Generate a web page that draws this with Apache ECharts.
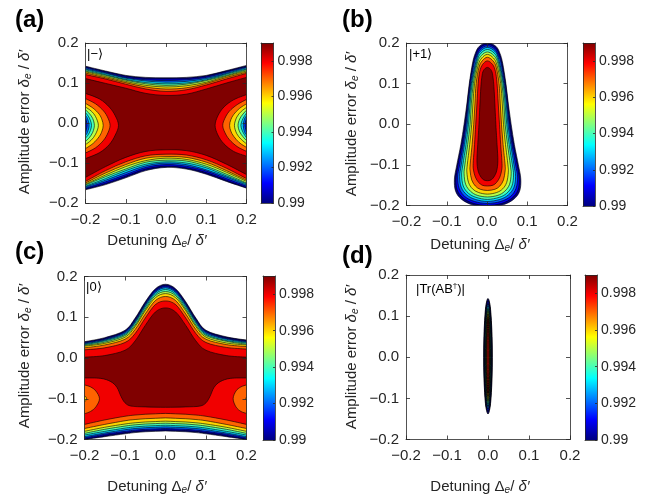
<!DOCTYPE html>
<html>
<head>
<meta charset="utf-8">
<script src="https://cdn.jsdelivr.net/npm/echarts@6/dist/echarts.min.js"></script>
<style>
html, body { margin: 0; padding: 0; background: #fff; }
#chart { width: 657px; height: 497px; }
</style>
</head>
<body>
<div id="chart"></div>
<script>
// ---------- contour levels and colour bar ----------
const levels = [0.990, 0.991, 0.992, 0.993, 0.994, 0.995, 0.996, 0.997, 0.998, 0.999];
const cbarTicks = [0.99, 0.992, 0.994, 0.996, 0.998];
const axisTicks = [-0.2, -0.1, 0, 0.1, 0.2];

// ---------- (a) |−⟩ : upper / lower contour branches sampled at aX ----------
const aX = [-0.2, -0.15, -0.1, -0.05, 0, 0.05, 0.1, 0.15, 0.2];
const aUpper = [
  [0.142, 0.130, 0.119, 0.114, 0.113, 0.114, 0.119, 0.131, 0.144],
  [0.140, 0.128, 0.117, 0.111, 0.110, 0.111, 0.117, 0.129, 0.142],
  [0.138, 0.126, 0.114, 0.108, 0.106, 0.108, 0.114, 0.127, 0.140],
  [0.135, 0.124, 0.112, 0.105, 0.102, 0.104, 0.111, 0.124, 0.138],
  [0.133, 0.121, 0.109, 0.101, 0.098, 0.100, 0.108, 0.122, 0.135],
  [0.130, 0.119, 0.107, 0.098, 0.094, 0.097, 0.106, 0.119, 0.133],
  [0.128, 0.116, 0.104, 0.094, 0.090, 0.093, 0.102, 0.117, 0.130],
  [0.125, 0.113, 0.101, 0.090, 0.085, 0.088, 0.099, 0.114, 0.127],
  [0.121, 0.110, 0.097, 0.085, 0.079, 0.083, 0.095, 0.110, 0.124],
  [0.111, 0.099, 0.087, 0.074, 0.069, 0.072, 0.085, 0.100, 0.114]
];
const aLower = [
  [-0.167, -0.154, -0.137, -0.119, -0.111, -0.115, -0.128, -0.146, -0.163],
  [-0.165, -0.151, -0.133, -0.115, -0.108, -0.112, -0.124, -0.143, -0.161],
  [-0.163, -0.147, -0.129, -0.111, -0.104, -0.108, -0.120, -0.139, -0.158],
  [-0.160, -0.143, -0.124, -0.107, -0.100, -0.104, -0.117, -0.135, -0.155],
  [-0.158, -0.139, -0.119, -0.103, -0.097, -0.100, -0.112, -0.132, -0.152],
  [-0.155, -0.134, -0.115, -0.098, -0.093, -0.095, -0.108, -0.128, -0.150],
  [-0.153, -0.130, -0.109, -0.094, -0.088, -0.091, -0.103, -0.123, -0.146],
  [-0.150, -0.125, -0.104, -0.088, -0.084, -0.086, -0.098, -0.119, -0.143],
  [-0.146, -0.119, -0.097, -0.082, -0.078, -0.080, -0.092, -0.113, -0.139],
  [-0.136, -0.109, -0.086, -0.071, -0.067, -0.069, -0.081, -0.103, -0.129]
];
// side pockets (region below the level, touching x = ±0.2)
const aPockets = [
  [0.999, [[-0.2, 0.074], [-0.165, 0.060], [-0.141, 0.040], [-0.126, 0.018], [-0.118, -0.006], [-0.126, -0.030], [-0.141, -0.054], [-0.165, -0.074], [-0.2, -0.089]]],
  [0.999, [[0.2, 0.071], [0.168, 0.058], [0.144, 0.040], [0.129, 0.018], [0.122, -0.006], [0.129, -0.030], [0.144, -0.052], [0.168, -0.071], [0.2, -0.083]]],
  [0.998, [[-0.2, 0.061], [-0.175, 0.048], [-0.155, 0.030], [-0.144, 0.012], [-0.139, -0.006], [-0.144, -0.024], [-0.155, -0.043], [-0.175, -0.062], [-0.2, -0.075]]],
  [0.998, [[0.2, 0.059], [0.177, 0.046], [0.157, 0.029], [0.146, 0.011], [0.141, -0.006], [0.146, -0.023], [0.157, -0.041], [0.177, -0.059], [0.2, -0.071]]],
  [0.997, [[-0.2, 0.049], [-0.181, 0.037], [-0.166, 0.022], [-0.159, 0.008], [-0.156, -0.006], [-0.159, -0.020], [-0.166, -0.034], [-0.181, -0.051], [-0.2, -0.064]]],
  [0.997, [[0.2, 0.048], [0.182, 0.036], [0.168, 0.021], [0.161, 0.008], [0.158, -0.006], [0.161, -0.020], [0.168, -0.033], [0.182, -0.049], [0.2, -0.061]]],
  [0.996, [[-0.2, 0.040], [-0.186, 0.030], [-0.175, 0.016], [-0.168, -0.006], [-0.175, -0.028], [-0.186, -0.043], [-0.2, -0.054]]],
  [0.996, [[0.2, 0.039], [0.187, 0.029], [0.176, 0.015], [0.170, -0.006], [0.176, -0.027], [0.187, -0.041], [0.2, -0.052]]],
  [0.995, [[-0.2, 0.033], [-0.190, 0.023], [-0.182, 0.011], [-0.178, -0.006], [-0.182, -0.023], [-0.190, -0.036], [-0.2, -0.046]]],
  [0.995, [[0.2, 0.032], [0.191, 0.022], [0.183, 0.010], [0.179, -0.006], [0.183, -0.022], [0.191, -0.034], [0.2, -0.044]]],
  [0.994, [[-0.2, 0.026], [-0.193, 0.017], [-0.188, 0.007], [-0.185, -0.006], [-0.188, -0.019], [-0.193, -0.029], [-0.2, -0.038]]],
  [0.994, [[0.2, 0.025], [0.194, 0.016], [0.189, 0.006], [0.186, -0.006], [0.189, -0.018], [0.194, -0.028], [0.2, -0.037]]],
  [0.993, [[-0.2, 0.019], [-0.195, 0.011], [-0.191, -0.006], [-0.195, -0.023], [-0.2, -0.031]]],
  [0.993, [[0.2, 0.018], [0.195, 0.010], [0.192, -0.006], [0.195, -0.022], [0.2, -0.030]]],
  [0.992, [[-0.2, 0.013], [-0.198, 0.006], [-0.196, -0.006], [-0.198, -0.017], [-0.2, -0.024]]],
  [0.992, [[0.2, 0.012], [0.198, 0.005], [0.196, -0.006], [0.198, -0.016], [0.2, -0.023]]]
];

// ---------- (b) |+1⟩ : closed contours, rows of [y, xLeft, xRight] ----------
const bLoops = [
  [0.990, [[0.201, 0.001, 0.001], [0.192, -0.019, 0.022], [0.175, -0.029, 0.032], [0.15, -0.036, 0.039], [0.10, -0.044, 0.047], [0.05, -0.050, 0.053], [0.0, -0.057, 0.060], [-0.05, -0.065, 0.068], [-0.10, -0.075, 0.078], [-0.135, -0.081, 0.084], [-0.165, -0.078, 0.081], [-0.185, -0.063, 0.066], [-0.199, -0.035, 0.038], [-0.204, 0.001, 0.001]]],
  [0.991, [[0.197, 0.001, 0.001], [0.188, -0.018, 0.021], [0.17, -0.028, 0.031], [0.15, -0.034, 0.037], [0.10, -0.043, 0.046], [0.05, -0.049, 0.052], [0.0, -0.054, 0.057], [-0.05, -0.062, 0.065], [-0.10, -0.072, 0.075], [-0.135, -0.077, 0.080], [-0.162, -0.074, 0.077], [-0.182, -0.059, 0.062], [-0.195, -0.033, 0.036], [-0.200, 0.001, 0.001]]],
  [0.992, [[0.193, 0.001, 0.001], [0.184, -0.017, 0.020], [0.165, -0.027, 0.030], [0.15, -0.032, 0.035], [0.10, -0.041, 0.044], [0.05, -0.047, 0.050], [0.0, -0.052, 0.055], [-0.05, -0.059, 0.062], [-0.10, -0.068, 0.071], [-0.13, -0.073, 0.076], [-0.158, -0.069, 0.072], [-0.178, -0.055, 0.058], [-0.190, -0.031, 0.034], [-0.195, 0.001, 0.001]]],
  [0.993, [[0.189, 0.001, 0.001], [0.18, -0.016, 0.019], [0.16, -0.026, 0.029], [0.10, -0.039, 0.042], [0.05, -0.045, 0.048], [0.0, -0.049, 0.052], [-0.05, -0.056, 0.059], [-0.10, -0.064, 0.067], [-0.128, -0.068, 0.071], [-0.155, -0.064, 0.067], [-0.174, -0.050, 0.053], [-0.185, -0.029, 0.032], [-0.19, 0.001, 0.001]]],
  [0.994, [[0.184, 0.001, 0.001], [0.175, -0.015, 0.018], [0.155, -0.025, 0.028], [0.10, -0.037, 0.040], [0.05, -0.042, 0.045], [0.0, -0.046, 0.049], [-0.05, -0.052, 0.055], [-0.10, -0.060, 0.063], [-0.125, -0.063, 0.066], [-0.152, -0.059, 0.062], [-0.170, -0.046, 0.049], [-0.180, -0.027, 0.030], [-0.185, 0.001, 0.001]]],
  [0.995, [[0.178, 0.001, 0.001], [0.169, -0.014, 0.017], [0.15, -0.024, 0.027], [0.10, -0.034, 0.037], [0.05, -0.039, 0.042], [0.0, -0.042, 0.045], [-0.05, -0.048, 0.051], [-0.10, -0.055, 0.058], [-0.122, -0.057, 0.060], [-0.148, -0.053, 0.056], [-0.165, -0.041, 0.044], [-0.175, -0.024, 0.027], [-0.179, 0.001, 0.001]]],
  [0.996, [[0.172, 0.001, 0.001], [0.163, -0.013, 0.016], [0.145, -0.022, 0.025], [0.10, -0.031, 0.034], [0.05, -0.035, 0.038], [0.0, -0.038, 0.041], [-0.05, -0.043, 0.046], [-0.10, -0.049, 0.052], [-0.118, -0.050, 0.053], [-0.143, -0.046, 0.049], [-0.159, -0.036, 0.039], [-0.168, -0.021, 0.024], [-0.172, 0.001, 0.001]]],
  [0.997, [[0.165, 0.001, 0.001], [0.156, -0.012, 0.015], [0.14, -0.020, 0.023], [0.10, -0.027, 0.030], [0.05, -0.030, 0.033], [0.0, -0.033, 0.036], [-0.05, -0.037, 0.040], [-0.10, -0.042, 0.045], [-0.115, -0.042, 0.045], [-0.137, -0.038, 0.041], [-0.152, -0.029, 0.032], [-0.160, -0.017, 0.020], [-0.163, 0.001, 0.001]]],
  [0.998, [[0.156, 0.001, 0.001], [0.147, -0.011, 0.014], [0.13, -0.018, 0.021], [0.10, -0.022, 0.025], [0.05, -0.025, 0.028], [0.0, -0.028, 0.031], [-0.05, -0.031, 0.034], [-0.09, -0.034, 0.037], [-0.11, -0.034, 0.037], [-0.13, -0.029, 0.032], [-0.143, -0.021, 0.024], [-0.150, -0.012, 0.015], [-0.152, 0.001, 0.001]]],
  [0.999, [[0.140, 0.001, 0.001], [0.132, -0.009, 0.011], [0.115, -0.013, 0.015], [0.08, -0.016, 0.018], [0.0, -0.020, 0.022], [-0.05, -0.023, 0.025], [-0.09, -0.025, 0.027], [-0.115, -0.022, 0.024], [-0.13, -0.015, 0.017], [-0.137, -0.008, 0.010], [-0.139, 0.001, 0.001]]]
];

// ---------- (c) |0⟩ : upper / lower branches sampled at cX ----------
const cX = [-0.2, -0.15, -0.1, -0.075, -0.05, -0.025, 0, 0.025, 0.05, 0.075, 0.1, 0.15, 0.2];
const cUpper = [
  [0.040, 0.050, 0.068, 0.098, 0.138, 0.170, 0.181, 0.170, 0.138, 0.098, 0.068, 0.052, 0.044],
  [0.039, 0.048, 0.066, 0.095, 0.135, 0.167, 0.178, 0.167, 0.135, 0.095, 0.066, 0.050, 0.043],
  [0.037, 0.046, 0.064, 0.092, 0.132, 0.164, 0.175, 0.164, 0.132, 0.092, 0.064, 0.048, 0.041],
  [0.035, 0.044, 0.061, 0.089, 0.129, 0.161, 0.172, 0.161, 0.129, 0.089, 0.061, 0.046, 0.039],
  [0.033, 0.042, 0.058, 0.086, 0.125, 0.157, 0.168, 0.157, 0.125, 0.086, 0.058, 0.043, 0.037],
  [0.031, 0.039, 0.055, 0.081, 0.120, 0.153, 0.163, 0.153, 0.120, 0.081, 0.055, 0.041, 0.034],
  [0.029, 0.036, 0.051, 0.077, 0.116, 0.148, 0.158, 0.148, 0.116, 0.077, 0.051, 0.037, 0.032],
  [0.025, 0.032, 0.046, 0.070, 0.108, 0.141, 0.151, 0.141, 0.108, 0.070, 0.046, 0.033, 0.028],
  [0.020, 0.025, 0.038, 0.060, 0.098, 0.131, 0.140, 0.131, 0.098, 0.060, 0.038, 0.026, 0.022],
  [0.002, 0.006, 0.019, 0.042, 0.080, 0.113, 0.123, 0.113, 0.080, 0.042, 0.019, 0.006, 0.002]
];
const cLower = [
  [-0.200, -0.193, -0.186, -0.183, -0.181, -0.180, -0.179, -0.180, -0.181, -0.183, -0.186, -0.193, -0.200],
  [-0.199, -0.190, -0.183, -0.180, -0.178, -0.177, -0.176, -0.177, -0.178, -0.180, -0.183, -0.190, -0.199],
  [-0.196, -0.187, -0.180, -0.177, -0.175, -0.174, -0.173, -0.174, -0.175, -0.177, -0.180, -0.187, -0.196],
  [-0.193, -0.184, -0.176, -0.173, -0.171, -0.170, -0.169, -0.170, -0.171, -0.173, -0.176, -0.184, -0.193],
  [-0.189, -0.180, -0.172, -0.169, -0.167, -0.166, -0.165, -0.166, -0.167, -0.169, -0.172, -0.180, -0.189],
  [-0.185, -0.175, -0.167, -0.164, -0.162, -0.161, -0.160, -0.161, -0.162, -0.164, -0.167, -0.175, -0.185],
  [-0.180, -0.170, -0.162, -0.159, -0.157, -0.156, -0.155, -0.156, -0.157, -0.159, -0.162, -0.170, -0.180],
  [-0.173, -0.163, -0.154, -0.151, -0.149, -0.148, -0.147, -0.148, -0.149, -0.151, -0.154, -0.163, -0.173],
  [-0.163, -0.152, -0.143, -0.140, -0.138, -0.137, -0.136, -0.137, -0.138, -0.140, -0.143, -0.152, -0.163]
];
// lower edge of the 0.999 plateau
const cPlateauLower = [[-0.2, -0.049], [-0.16, -0.050], [-0.135, -0.058], [-0.12, -0.072], [-0.11, -0.094], [-0.1, -0.110], [-0.085, -0.118], [-0.05, -0.120], [0, -0.121], [0.05, -0.120], [0.085, -0.118], [0.1, -0.110], [0.11, -0.094], [0.12, -0.072], [0.135, -0.058], [0.16, -0.050], [0.2, -0.049]];
const cPockets = [
  [0.998, [[-0.2, -0.066], [-0.185, -0.071], [-0.172, -0.081], [-0.163, -0.100], [-0.172, -0.120], [-0.185, -0.131], [-0.2, -0.137]]],
  [0.998, [[0.2, -0.066], [0.186, -0.071], [0.174, -0.081], [0.167, -0.100], [0.174, -0.120], [0.186, -0.131], [0.2, -0.136]]],
  [0.997, [[-0.2, -0.093], [-0.196, -0.096], [-0.195, -0.100], [-0.196, -0.104], [-0.2, -0.107]]],
  [0.997, [[0.2, -0.096], [0.198, -0.100], [0.2, -0.104]]]
];

// ---------- (d) |Tr(AB†)| : closed contours, rows of [y, halfWidth] ----------
const dLoops = [
  [0.990, [[0.143, 0], [0.129, 0.0046], [0.100, 0.0075], [0.050, 0.0099], [0, 0.0105], [-0.048, 0.0099], [-0.097, 0.0075], [-0.124, 0.0046], [-0.138, 0]]],
  [0.991, [[0.137, 0], [0.123, 0.0041], [0.096, 0.0066], [0.048, 0.0087], [0, 0.0093], [-0.046, 0.0087], [-0.092, 0.0066], [-0.119, 0.0041], [-0.132, 0]]],
  [0.992, [[0.131, 0], [0.118, 0.0036], [0.092, 0.0058], [0.046, 0.0077], [0, 0.0082], [-0.044, 0.0077], [-0.088, 0.0058], [-0.113, 0.0036], [-0.126, 0]]],
  [0.993, [[0.125, 0], [0.113, 0.0031], [0.088, 0.0050], [0.044, 0.0067], [0, 0.0071], [-0.042, 0.0067], [-0.084, 0.0050], [-0.108, 0.0031], [-0.120, 0]]],
  [0.994, [[0.119, 0], [0.107, 0.0026], [0.083, 0.0043], [0.042, 0.0056], [0, 0.0060], [-0.040, 0.0056], [-0.080, 0.0043], [-0.103, 0.0026], [-0.114, 0]]],
  [0.995, [[0.113, 0], [0.102, 0.0022], [0.079, 0.0036], [0.040, 0.0047], [0, 0.0050], [-0.038, 0.0047], [-0.076, 0.0036], [-0.097, 0.0022], [-0.108, 0]]],
  [0.996, [[0.106, 0], [0.095, 0.0018], [0.074, 0.0028], [0.037, 0.0038], [0, 0.0040], [-0.035, 0.0038], [-0.071, 0.0028], [-0.091, 0.0018], [-0.101, 0]]],
  [0.997, [[0.099, 0], [0.089, 0.0013], [0.069, 0.0021], [0.035, 0.0028], [0, 0.0030], [-0.033, 0.0028], [-0.066, 0.0021], [-0.085, 0.0013], [-0.094, 0]]],
  [0.998, [[0.092, 0], [0.083, 0.0009], [0.064, 0.0014], [0.032, 0.0019], [0, 0.0020], [-0.030, 0.0019], [-0.061, 0.0014], [-0.078, 0.0009], [-0.087, 0]]]
];

// ---------- styling ----------
const FONT = '"Liberation Sans", Arial, Helvetica, sans-serif';
const INK = '#262626';

// MATLAB-style jet colormap
function jet(t) {
  const c = v => Math.round(255 * Math.max(0, Math.min(1, v)));
  return 'rgb(' + c(1.5 - Math.abs(4 * t - 3)) + ',' + c(1.5 - Math.abs(4 * t - 2)) + ',' + c(1.5 - Math.abs(4 * t - 1)) + ')';
}
const levelIndex = L => levels.findIndex(v => Math.abs(v - L) < 1e-9);
const levelColor = k => jet(k / (levels.length - 1));

// shape builders: a band lies between an upper and a lower branch,
// a pocket is a dip below its level touching the plot edge, a loop is closed
const zip = (xs, ys) => xs.map((x, i) => [x, ys[i]]);
function band(k, top, bottom) { return { kind: 'band', color: levelColor(k), top, bottom }; }
function pocket(L, pts) { return { kind: 'pocket', color: levelColor(levelIndex(L) - 1), pts }; }
function loopRows(L, rows) {
  const left = rows.map(r => [r[1], r[0]]);
  const right = rows.slice(1, -1).reverse().map(r => [r[2], r[0]]);
  return { kind: 'loop', color: levelColor(levelIndex(L)), pts: left.concat(right) };
}
function loopHalf(L, rows) {
  return loopRows(L, rows.map(r => [r[0], -r[1], r[1]]));
}

const shapesA = levels.map((L, k) => band(k, zip(aX, aUpper[k]), zip(aX, aLower[k])))
  .concat(aPockets.map(p => pocket(p[0], p[1])));
const shapesB = bLoops.map(l => loopRows(l[0], l[1]));
const shapesC = levels.map((L, k) => band(k, zip(cX, cUpper[k]), k < cLower.length ? zip(cX, cLower[k]) : cPlateauLower))
  .concat(cPockets.map(p => pocket(p[0], p[1])));
const shapesD = dLoops.map(l => loopHalf(l[0], l[1]));

// Catmull-Rom spline through pixel points, as cubic Bezier segments
function spline(P, closed) {
  const n = P.length;
  const g = i => closed ? P[(i + n) % n] : P[Math.max(0, Math.min(n - 1, i))];
  let d = '';
  const segs = closed ? n : n - 1;
  for (let i = 0; i < segs; i++) {
    const p0 = g(i - 1), p1 = g(i), p2 = g(i + 1), p3 = g(i + 2);
    const c1x = p1[0] + (p2[0] - p0[0]) / 6, c1y = p1[1] + (p2[1] - p0[1]) / 6;
    const c2x = p2[0] - (p3[0] - p1[0]) / 6, c2y = p2[1] - (p3[1] - p1[1]) / 6;
    d += 'C' + c1x.toFixed(2) + ',' + c1y.toFixed(2) + ' ' + c2x.toFixed(2) + ',' + c2y.toFixed(2) + ' ' + p2[0].toFixed(2) + ',' + p2[1].toFixed(2);
  }
  return d;
}
const mv = p => 'M' + p[0].toFixed(2) + ',' + p[1].toFixed(2);
const ln = p => 'L' + p[0].toFixed(2) + ',' + p[1].toFixed(2);

function contourRenderer(shapes, lineWidth) {
  return function (params, api) {
    const s = shapes[params.dataIndex];
    const cs = params.coordSys;
    const px = pts => pts.map(p => api.coord(p));
    let fill, line;
    if (s.kind === 'band') {
      const T = px(s.top), B = px(s.bottom), Br = B.slice().reverse();
      fill = mv(T[0]) + spline(T) + ln(Br[0]) + spline(Br) + 'Z';
      line = mv(T[0]) + spline(T) + mv(B[0]) + spline(B);
    } else if (s.kind === 'pocket') {
      const P = px(s.pts);
      fill = mv(P[0]) + spline(P) + 'Z';
      line = mv(P[0]) + spline(P);
    } else {
      const P = px(s.pts);
      fill = mv(P[0]) + spline(P, true) + 'Z';
      line = fill;
    }
    return {
      type: 'group',
      clipPath: { type: 'rect', shape: { x: cs.x, y: cs.y, width: cs.width, height: cs.height } },
      children: [
        { type: 'path', shape: { pathData: fill }, style: { fill: s.color, stroke: null } },
        { type: 'path', shape: { pathData: line }, style: { fill: null, stroke: '#000', lineWidth } }
      ]
    };
  };
}

function colorbarRenderer(params, api) {
  const lo = api.coord([0, levels[0]]);
  const hi = api.coord([1, levels[levels.length - 1]]);
  const stops = [];
  for (let i = 0; i <= 32; i++) stops.push({ offset: i / 32, color: jet(i / 32) });
  return {
    type: 'rect',
    shape: { x: lo[0], y: hi[1], width: hi[0] - lo[0], height: lo[1] - hi[1] },
    style: { fill: new echarts.graphic.LinearGradient(0, 1, 0, 0, stops) }
  };
}

// ---------- layout ----------
const panels = [
  { shapes: shapesA, lw: 0.6, box: [85.5, 43, 161, 160], bar: [261, 43, 12.5, 160] },
  { shapes: shapesB, lw: 0.6, box: [406.5, 43, 161, 162.5], bar: [583, 43, 12, 163] },
  { shapes: shapesC, lw: 0.6, box: [84.5, 276.5, 162, 163], bar: [263, 276, 12, 164] },
  { shapes: shapesD, lw: 0.85, box: [406, 275, 164, 164.5], bar: [585, 275, 12, 165] }
];

const grid = [], xAxis = [], yAxis = [], series = [];
const lineStyle = { color: INK, width: 0.8 };
const frameLine = { show: true, onZero: false, lineStyle };
const tickFmt = v => (v < -1e-9 ? '\u2212' : '') + Math.abs(v).toFixed(1);
const tickLabel = { color: INK, fontFamily: FONT, fontSize: 15 };
const barLabel = { color: INK, fontFamily: FONT, fontSize: 14 };

panels.forEach((p) => {
  const g = grid.length;
  grid.push({ left: p.box[0], top: p.box[1], width: p.box[2], height: p.box[3] });
  const xi = xAxis.length, yi = yAxis.length;
  const common = { gridIndex: g, type: 'value', min: -0.2, max: 0.2, interval: 0.1, z: 5,
    axisLine: frameLine, splitLine: { show: false },
    axisTick: { show: true, inside: true, length: 4, lineStyle } };
  xAxis.push(Object.assign({}, common, { position: 'bottom',
    axisLabel: Object.assign({ margin: 9, formatter: tickFmt, customValues: axisTicks }, tickLabel) }));
  xAxis.push(Object.assign({}, common, { position: 'top', axisLabel: { show: false } }));
  yAxis.push(Object.assign({}, common, { position: 'left',
    axisLabel: Object.assign({ margin: 7, formatter: tickFmt, customValues: axisTicks }, tickLabel) }));
  yAxis.push(Object.assign({}, common, { position: 'right', axisLabel: { show: false } }));
  series.push({
    type: 'custom', xAxisIndex: xi, yAxisIndex: yi, silent: true,
    data: p.shapes.map(() => [0, 0]),
    renderItem: contourRenderer(p.shapes, p.lw)
  });

  // colour bar
  const cg = grid.length;
  grid.push({ left: p.bar[0], top: p.bar[1], width: p.bar[2], height: p.bar[3] });
  const cxi = xAxis.length, cyi = yAxis.length;
  const plain = { gridIndex: cg, type: 'value', z: 5, axisLine: frameLine,
    axisTick: { show: false }, axisLabel: { show: false }, splitLine: { show: false } };
  xAxis.push(Object.assign({}, plain, { min: 0, max: 1, position: 'bottom' }));
  xAxis.push(Object.assign({}, plain, { min: 0, max: 1, position: 'top' }));
  yAxis.push(Object.assign({}, plain, { min: levels[0], max: levels[levels.length - 1], position: 'left' }));
  yAxis.push({ gridIndex: cg, type: 'value', min: levels[0], max: levels[levels.length - 1], position: 'right', z: 5,
    axisLine: frameLine, splitLine: { show: false },
    axisTick: { show: true, inside: true, length: 2, lineStyle, customValues: cbarTicks },
    axisLabel: Object.assign({ margin: 4, customValues: cbarTicks, formatter: v => String(parseFloat(v.toFixed(3))) }, barLabel) });
  series.push({
    type: 'custom', xAxisIndex: cxi, yAxisIndex: cyi, silent: true,
    data: [[0, levels[0]]], renderItem: colorbarRenderer
  });
});

// ---------- text: panel letters, axis titles, state labels ----------
const titleRich = {
  t: { fontFamily: FONT, fontSize: 15, fill: INK, color: INK },
  i: { fontFamily: FONT, fontSize: 15, fontStyle: 'italic', fill: INK, color: INK },
  s: { fontFamily: FONT, fontSize: 10, fontStyle: 'italic', fill: INK, color: INK, padding: [7, 0, 0, 0] }
};
const ketRich = {
  k: { fontFamily: FONT, fontSize: 13, fill: '#000', color: '#000' },
  u: { fontFamily: FONT, fontSize: 8, fill: '#000', color: '#000', padding: [0, 0, 6, 0] }
};
function txt(x, y, text, extra) {
  return Object.assign({ type: 'text', x, y, silent: true, style: Object.assign({ text, fill: INK, align: 'center', verticalAlign: 'middle', textAlign: 'center', textVerticalAlign: 'middle' }, extra.style || {}) }, extra.el || {});
}
const xTitle = '{t|Detuning \u0394}{s|e}{t|/ }{i|\u03b4\u2032}';
const yTitle = '{t|Amplitude error }{i|\u03b4}{s|e}{t| / }{i|\u03b4\u2032}';
const letter = { font: 'bold 24px ' + FONT, fill: '#000', align: 'left', textAlign: 'left' };
const ket = { rich: ketRich, align: 'left', textAlign: 'left' };
const graphics = [
  txt(15, 20, '(a)', { style: letter }),
  txt(342, 20, '(b)', { style: letter }),
  txt(15, 252, '(c)', { style: letter }),
  txt(342, 256, '(d)', { style: letter }),
  txt(157, 241, xTitle, { style: { rich: titleRich } }),
  txt(480, 245, xTitle, { style: { rich: titleRich } }),
  txt(157, 487, xTitle, { style: { rich: titleRich } }),
  txt(480, 487, xTitle, { style: { rich: titleRich } }),
  txt(25, 122, yTitle, { style: { rich: titleRich }, el: { rotation: Math.PI / 2 } }),
  txt(352, 124, yTitle, { style: { rich: titleRich }, el: { rotation: Math.PI / 2 } }),
  txt(25, 356, yTitle, { style: { rich: titleRich }, el: { rotation: Math.PI / 2 } }),
  txt(352, 357, yTitle, { style: { rich: titleRich }, el: { rotation: Math.PI / 2 } }),
  txt(87, 54, '{k||\u2212\u27e9}', { style: ket }),
  txt(409, 54, '{k||+1\u27e9}', { style: ket }),
  txt(86, 287, '{k||0\u27e9}', { style: ket }),
  txt(416, 289, '{k||Tr(AB}{u|\u2020}{k|)|}', { style: ket })
];

const chart = echarts.init(document.getElementById('chart'), null, { renderer: 'canvas' });
chart.setOption({
  animation: false,
  backgroundColor: '#fff',
  grid, xAxis, yAxis, series,
  graphic: { elements: graphics }
});
</script>
</body>
</html>
